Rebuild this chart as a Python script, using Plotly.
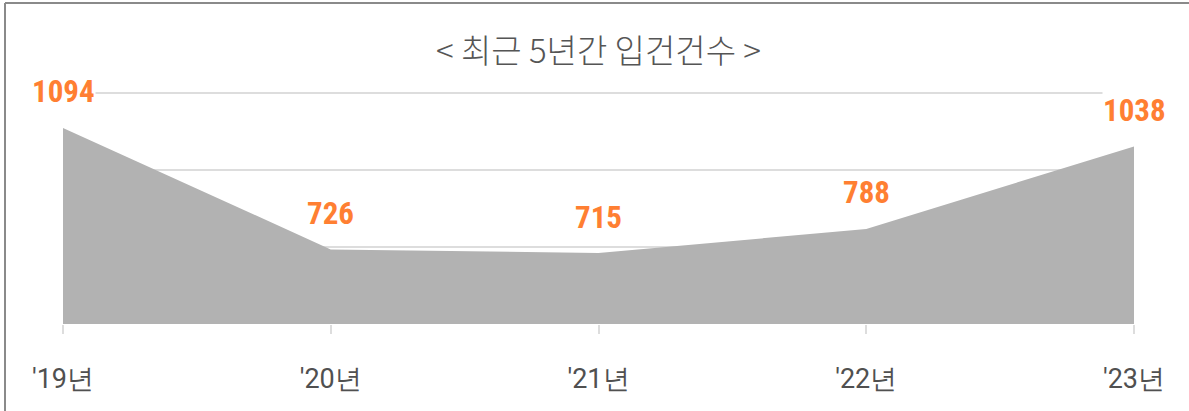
import plotly.graph_objects as go

years = ["'19년", "'20년", "'21년", "'22년", "'23년"]
cases = [1094, 726, 715, 788, 1038]
y_min, y_max = 500, 1200
title_text = "< 최근 5년간 입건건수 >"

xs = list(range(len(years)))
fig = go.Figure()
fig.add_trace(go.Scatter(
    x=xs, y=cases, mode="lines", fill="tozeroy",
    line=dict(width=0, color="#b2b2b2"), fillcolor="#b2b2b2",
    hoverinfo="skip", showlegend=False,
))
for xi, v in zip(xs, cases):
    fig.add_annotation(
        x=xi, y=v, text=str(v), showarrow=False, yshift=36,
        bgcolor="white", borderpad=0,
        font=dict(family="Liberation Sans Narrow, Roboto Condensed, Roboto",
                  size=31, color="#ff7f32", weight="bold"),
    )

n = 3
grid_vals = [y_min + (y_max - y_min) * i / n for i in range(n + 1)]

fig.update_layout(
    width=1189, height=411,
    margin=dict(l=63, r=55, t=91, b=87),
    paper_bgcolor="white", plot_bgcolor="white",
    title=dict(text=title_text, x=0.5, xref="paper", xanchor="center",
               y=1 - 51 / 411, yanchor="middle", yref="container",
               font=dict(family="Noto Sans CJK KR", size=33, color="#555555",
                         weight=300)),
    xaxis=dict(
        range=[0, len(years) - 1], tickmode="array", tickvals=xs, ticktext=years,
        showgrid=False, zeroline=False, showline=False,
        ticks="outside", ticklen=9, tickcolor="#dddddd", tickwidth=2,
        ticklabelstandoff=22,
        tickfont=dict(family="Roboto", size=27, color="#505050"),
    ),
    yaxis=dict(
        range=[y_min, y_max + 6], tickmode="array", tickvals=grid_vals,
        showticklabels=False, showgrid=True, gridcolor="#dddddd", gridwidth=2,
        zeroline=False, showline=False,
    ),
    shapes=[
        dict(type="line", xref="paper", yref="paper",
             x0=(5 - 63) / 1071, x1=1.2, y0=(324 - 3) / 233, y1=(324 - 3) / 233,
             line=dict(color="#8a8a8a", width=2)),
        dict(type="line", xref="paper", yref="paper",
             x0=(5 - 63) / 1071, x1=(5 - 63) / 1071, y0=(324 - 3) / 233, y1=-0.5,
             line=dict(color="#8a8a8a", width=2)),
    ],
)
fig.write_html("out.html", config={"displayModeBar": False},
               post_script="document.body.style.margin='0';")
